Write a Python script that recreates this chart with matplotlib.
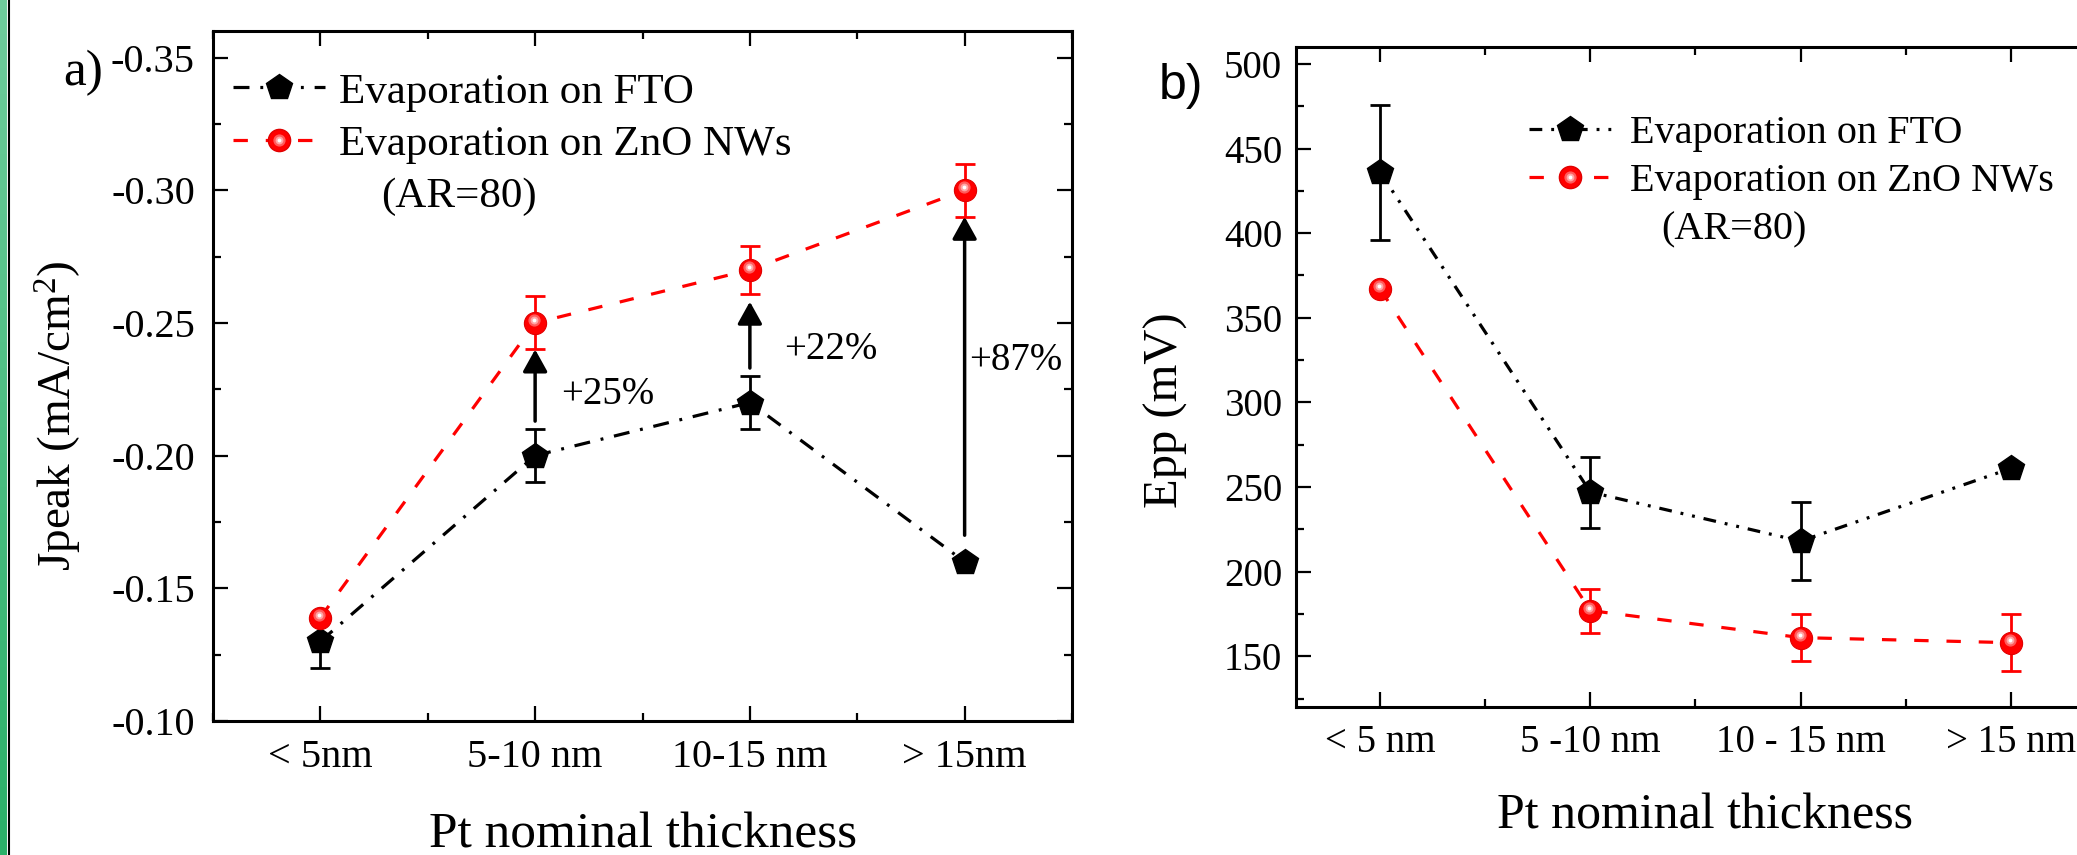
import numpy as np
import matplotlib
matplotlib.use("Agg")
import matplotlib.pyplot as plt
from matplotlib.lines import Line2D
from matplotlib.ticker import MultipleLocator, FormatStrFormatter
from matplotlib.transforms import ScaledTranslation
from matplotlib.colors import LinearSegmentedColormap

plt.rcParams['font.family'] = ['Liberation Serif', 'DejaVu Serif']
plt.rcParams['mathtext.fontset'] = 'custom'
plt.rcParams['mathtext.rm'] = 'Liberation Serif'
plt.rcParams['mathtext.it'] = 'Liberation Serif:italic'
plt.rcParams['axes.unicode_minus'] = False

# --- Data ---
x_pos = [1, 2, 3, 4]
labels_a = ['< 5nm', '5-10 nm', '10-15 nm', '> 15nm']
labels_b = ['< 5 nm', '5 -10 nm', '10 - 15 nm', '> 15 nm']

jpeak_fto = [-0.130, -0.200, -0.220, -0.160]
jpeak_fto_err = [0.010, 0.010, 0.010, 0.0]
jpeak_zno = [-0.139, -0.250, -0.270, -0.300]
jpeak_zno_err = [0.0, 0.010, 0.009, 0.010]

arrow_x = [2, 3, 4]
arrow_from = [-0.213, -0.233, -0.170]
arrow_to = [-0.240, -0.258, -0.290]
gain_text = ['+25%', '+22%', '+87%']
gain_x = [2.12, 3.16, 4.02]
gain_y = [-0.223, -0.240, -0.236]

epp_fto = [436, 247, 218, 261]
epp_fto_err = [40, 21, 23, 0]
epp_zno = [367, 177, 161, 158]
epp_zno_err = [0, 13, 14, 17]

# --- Styles ---
W, H, DPI = 2077, 855, 100
LW = 2.3
DASH_DOT = (5, 3.4, 0.9, 3.4)
DASH_DOT_DOT = (4, 2.8, 0.9, 2.8, 0.9, 2.8)
DASHED = (4.5, 5.6)
RED = '#ff0000'

fig = plt.figure(figsize=(W / DPI, H / DPI), dpi=DPI)


def px_axes(left, top, right, bottom):
    return fig.add_axes([left / W, 1 - bottom / H, (right - left) / W, (bottom - top) / H])


def masked(err):
    err = np.asarray(err, dtype=float)
    return np.where(err > 0, err, np.nan)


def pentagon_series(ax, y, err, dashes):
    ax.errorbar(x_pos, y, yerr=masked(err), fmt='none', ecolor='black',
                elinewidth=2, capsize=7, capthick=2, zorder=2)
    ax.plot(x_pos, y, color='black', lw=LW, dashes=dashes, zorder=3)
    ax.plot(x_pos, y, ls='none', marker='p', ms=19, mfc='black', mec='black', zorder=4)


def sphere_series(ax, y, err):
    ax.errorbar(x_pos, y, yerr=masked(err), fmt='none', ecolor=RED,
                elinewidth=2, capsize=7, capthick=2, zorder=2)
    ax.plot(x_pos, y, color=RED, lw=LW, dashes=DASHED, zorder=3)
    ax.plot(x_pos, y, ls='none', marker='o', ms=16, mfc=RED, mec='#e00000', mew=0.8, zorder=5)
    off = ax.transData + ScaledTranslation(-1 / DPI, 3 / DPI, fig.dpi_scale_trans)
    for ms, col, z in [(8.8, '#ff5c5c', 6), (5.6, '#ffa6a6', 7), (2.8, 'white', 8)]:
        ax.plot(x_pos, y, ls='none', marker='o', ms=ms, mfc=col, mec='none',
                transform=off, zorder=z)


def legend_handles(dashes):
    fto = Line2D([], [], color='black', lw=LW, dashes=dashes, marker='p', ms=19,
                 mfc='black', mec='black')
    zno = (Line2D([], [], color=RED, lw=LW, dashes=DASHED, marker='o', ms=16,
                  mfc=RED, mec='#e00000'),
           Line2D([], [], ls='none', marker='o', ms=8.8, mfc='#ff5c5c', mec='none'),
           Line2D([], [], ls='none', marker='o', ms=5.6, mfc='#ffa6a6', mec='none'),
           Line2D([], [], ls='none', marker='o', ms=2.8, mfc='white', mec='none'))
    return [fto, zno]


def style_axes(ax):
    ax.tick_params(which='both', direction='in', top=True, right=True, width=1.6)
    ax.tick_params(which='major', length=11)
    ax.tick_params(which='minor', length=6)
    for s in ax.spines.values():
        s.set_linewidth(2.2)


# --- green strip on the left edge ---
strip = px_axes(0, 0, 7, H)
grad = LinearSegmentedColormap.from_list('g', ['#6fcc9c', '#2bb069'])
strip.imshow(np.linspace(0, 1, 100).reshape(-1, 1), aspect='auto', cmap=grad)
strip.axis('off')
fig.add_artist(Line2D([8.5 / W, 8.5 / W], [0, 1], color='black', lw=1.5))

# --- Panel a ---
ax1 = px_axes(213, 31, 1072, 721)
pentagon_series(ax1, jpeak_fto, jpeak_fto_err, DASH_DOT)
sphere_series(ax1, jpeak_zno, jpeak_zno_err)
for xa, y0, y1 in zip(arrow_x, arrow_from, arrow_to):
    ax1.annotate('', xy=(xa, y1), xytext=(xa, y0),
                 arrowprops=dict(arrowstyle='-|>,head_length=0.45,head_width=0.25',
                                 mutation_scale=30, lw=2.5, color='black',
                                 shrinkA=0, shrinkB=0), zorder=3)
for tx, ty, t in zip(gain_x, gain_y, gain_text):
    ax1.text(tx, ty, t, fontsize=28, ha='left', va='center')

ax1.set_xlim(0.5, 4.5)
ax1.set_ylim(-0.10, -0.36)
ax1.set_xticks(x_pos, labels_a)
ax1.xaxis.set_minor_locator(MultipleLocator(0.5))
ax1.yaxis.set_major_locator(MultipleLocator(0.05))
ax1.yaxis.set_minor_locator(MultipleLocator(0.025))
ax1.yaxis.set_major_formatter(FormatStrFormatter('%.2f'))
style_axes(ax1)
ax1.tick_params(axis='x', labelsize=29, pad=13)
ax1.tick_params(axis='y', labelsize=29, pad=13)

ax1.legend(legend_handles(DASH_DOT), ['Evaporation on FTO', 'Evaporation on ZnO NWs'],
           loc='upper left', bbox_to_anchor=(0.0233, 0.940), frameon=False,
           fontsize=31, handlelength=2.14, handletextpad=0.33, labelspacing=0.31,
           borderpad=0, borderaxespad=0)
fig.text(381 / W, 1 - 197 / H, '(AR=80)', fontsize=31, ha='left', va='center')

fig.text(83 / W, 1 - 73 / H, 'a)', fontsize=37, ha='center', va='center')
fig.text(643 / W, 1 - 847 / H, 'Pt nominal thickness', fontsize=37, ha='center', va='baseline')
fig.text(58 / W, 1 - 416 / H, 'Jpeak (mA/cm$^2$)', fontsize=34, rotation=90,
         ha='center', va='center')

# --- Panel b ---
ax2 = px_axes(1296, 47, 2095, 707)
pentagon_series(ax2, epp_fto, epp_fto_err, DASH_DOT_DOT)
sphere_series(ax2, epp_zno, epp_zno_err)

ax2.set_xlim(0.6, 4.4)
ax2.set_ylim(120, 510)
ax2.set_xticks(x_pos, labels_b)
ax2.xaxis.set_minor_locator(MultipleLocator(0.5))
ax2.set_yticks(np.arange(150, 501, 50))
ax2.yaxis.set_minor_locator(MultipleLocator(25))
style_axes(ax2)
ax2.tick_params(axis='x', labelsize=28, pad=12)
ax2.tick_params(axis='y', labelsize=28, pad=10)

ax2.legend(legend_handles(DASH_DOT_DOT), ['Evaporation on FTO', 'Evaporation on ZnO NWs'],
           loc='upper left', bbox_to_anchor=(0.2916, 0.897), frameon=False,
           fontsize=29, handlelength=2.05, handletextpad=0.47, labelspacing=0.275,
           borderpad=0, borderaxespad=0)
fig.text(1661 / W, 1 - 230 / H, '(AR=80)', fontsize=29, ha='left', va='center')

fig.text(1181 / W, 1 - 86 / H, 'b)', fontsize=36, family='Liberation Sans',
         ha='center', va='center')
fig.text(1705 / W, 1 - 828 / H, 'Pt nominal thickness', fontsize=36, ha='center', va='baseline')
fig.text(1166 / W, 1 - 410 / H, 'Epp (mV)', fontsize=35, rotation=90,
         ha='center', va='center')

fig.savefig('out.png', dpi=DPI)
